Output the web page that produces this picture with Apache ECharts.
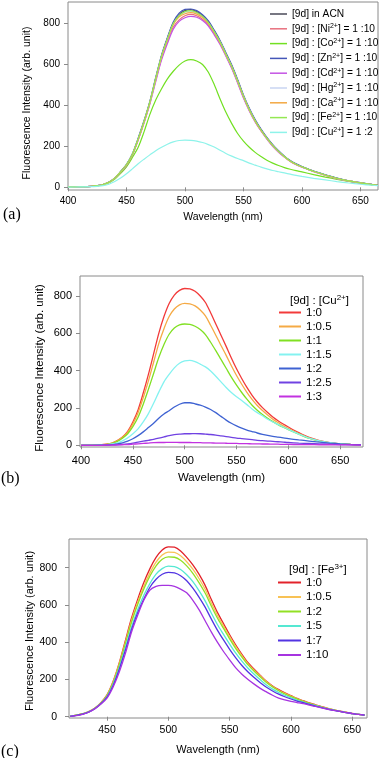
<!DOCTYPE html>
<html>
<head>
<meta charset="utf-8">
<script src="https://cdn.jsdelivr.net/npm/echarts@6/dist/echarts.min.js"></script>
<style>
html,body{margin:0;padding:0;background:#fff}
#chart{width:380px;height:758px}
</style>
</head>
<body>
<div id="chart"></div>
<script>
// wavelengths (nm)
var waveA = [400,410,420,425,430,435,440,445,450,455,460,465,470,475,480,485,490,495,500,505,510,515,520,525,530,535,540,545,550,555,560,565,570,575,580,585,590,595,600,610,620,630,640,650,660,665];
var waveB = [400,410,420,425,430,435,440,445,450,455,460,465,470,475,480,485,490,495,500,505,510,515,520,525,530,535,540,545,550,555,560,565,570,575,580,585,590,595,600,610,620,630,640,650,660,670];
var waveC = [420,425,430,435,440,445,450,455,460,465,470,475,480,485,490,495,500,505,510,515,520,525,530,535,540,545,550,555,560,565,570,575,580,585,590,595,600,605,610,615,620,625,630,635,640,645,650,655,660];

// (a) metal ions
var namesA = ['[9d] in ACN','[9d] : [Ni2+] = 1 :10','[9d] : [Co2+] = 1 :10','[9d] : [Zn2+] = 1 :10','[9d] : [Cd2+] = 1 :10','[9d] : [Hg2+] = 1 :10','[9d] : [Ca2+] = 1 :10','[9d] : [Fe2+] = 1 :10','[9d] : [Cu2+] = 1 :2'];
var colorsA = ['#4a4a58','#e8707e','#72e022','#4456b8','#c455e4','#c9d5f2','#f3a843','#94e853','#8ef3ea'];
var acn = [2,3,5,8,14,25,45,75,110,160,235,320,415,530,640,725,800,840,860,865,855,835,805,760,710,650,590,520,445,380,325,280,240,205,175,150,128,112,100,78,60,44,31,22,13,10];
var ni  = [2,3,5,8,14,25,44,74,108,158,232,316,410,522,628,710,780,815,835,842,835,818,790,748,700,642,582,512,438,375,320,276,237,202,173,148,127,111,99,77,59,43,30,21,13,9];
var co  = [1,2,4,7,12,22,40,68,100,145,195,270,355,425,480,528,565,595,615,622,615,598,560,500,430,365,310,262,225,195,170,150,132,118,106,96,88,81,75,62,50,39,29,20,12,9];
var zn  = [2,3,5,8,14,26,46,77,112,163,240,325,420,535,645,730,805,848,866,868,860,840,810,765,715,655,595,525,450,385,330,283,243,208,178,152,130,114,101,79,61,45,32,23,14,10];
var cd  = [2,3,5,8,14,25,44,73,107,157,230,313,405,515,620,700,770,808,825,832,828,812,785,742,695,638,578,508,435,372,318,274,235,200,171,147,126,110,98,76,58,42,30,21,13,9];
var hg  = [2,3,5,8,14,25,45,75,110,160,234,318,412,527,636,720,795,835,852,856,848,830,800,756,707,647,587,517,443,378,323,278,238,203,174,149,127,111,99,77,59,43,31,22,13,9];
var ca  = [2,3,5,8,14,25,45,75,109,159,233,318,413,527,635,718,792,830,845,850,843,826,797,753,704,645,586,516,442,377,322,277,238,203,174,149,127,111,99,77,59,43,31,22,13,9];
var fe  = [2,3,5,8,14,25,45,76,111,161,236,321,416,530,640,722,797,836,855,860,851,832,802,758,708,648,588,518,444,379,324,279,239,204,175,150,128,112,100,78,60,44,31,22,13,10];
var cu  = [1,2,3,5,8,15,28,45,66,90,115,137,158,178,195,210,221,228,230,229,225,218,208,196,180,165,152,140,130,118,108,98,90,82,76,70,64,58,53,44,36,28,21,15,10,8];
var valuesA = [acn, ni, co, zn, cd, hg, ca, fe, cu];

// (b) Cu2+ titration
var namesB = ['1:0','1:0.5','1:1','1:1.5','1:2','1:2.5','1:3'];
var colorsB = ['#f23a3a','#f5aa45','#80e022','#84f2f0','#3e62d2','#7042e2','#c232e0'];
var b1_0  = [0,1,3,6,12,25,45,75,125,190,280,380,490,600,690,760,805,830,840,838,825,800,765,710,650,590,530,468,410,358,310,268,232,202,176,152,132,114,98,68,42,25,14,8,5,3];
var b1_05 = [0,1,3,6,12,24,43,70,115,175,255,345,445,545,625,690,730,752,760,758,747,725,693,643,590,535,482,426,374,327,284,246,213,186,162,140,122,105,90,63,39,24,13,8,5,3];
var b1_1  = [0,1,3,5,11,21,38,62,100,150,220,300,385,470,540,595,628,645,650,648,638,620,593,552,507,460,413,365,322,283,247,215,188,165,145,127,111,97,84,60,38,23,13,8,5,3];
var b1_15 = [0,1,2,4,7,13,24,40,62,88,125,170,225,285,340,380,415,440,452,455,448,435,420,398,370,340,310,283,260,240,218,195,175,158,140,125,112,98,85,60,38,24,14,8,5,3];
var b1_2  = [0,0,1,2,4,7,13,22,35,52,72,95,118,145,168,185,205,220,228,228,222,215,205,192,175,155,135,118,104,92,82,74,66,59,53,48,44,40,36,29,23,17,12,8,5,3];
var b1_25 = [0,0,0,1,2,3,5,8,12,17,22,27,32,38,45,52,57,60,62,62,63,62,60,58,55,51,47,43,39,36,33,30,27,25,23,21,19,17,15,12,10,8,6,4,3,2];
var b1_3  = [0,0,0,1,1,2,3,4,6,8,10,12,14,15,15,16,16,15,15,15,14,14,13,13,12,12,11,10,10,9,9,8,8,7,7,6,6,5,5,4,4,3,3,2,2,1];
var valuesB = [b1_0, b1_05, b1_1, b1_15, b1_2, b1_25, b1_3];

// (c) Fe3+ titration
var namesC = ['1:0','1:0.5','1:2','1:5','1:7','1:10'];
var colorsC = ['#e2222a','#f8c255','#92e024','#55e8d2','#5234e2','#a634e0'];
var c1_0  = [3,8,15,27,45,75,117,190,290,410,530,630,720,795,855,895,912,910,890,855,815,765,705,630,560,500,440,385,335,290,255,222,190,165,145,128,113,98,86,74,64,54,45,37,30,24,18,13,9];
var c1_05 = [3,8,15,27,45,74,115,186,284,400,518,615,700,772,830,868,884,882,864,832,792,742,684,612,545,487,430,376,328,284,250,218,187,162,142,125,110,96,84,72,62,53,44,36,29,23,17,12,9];
var c1_2  = [3,8,15,26,45,73,113,182,278,392,507,602,685,755,810,845,858,856,840,810,770,720,664,595,530,474,418,366,320,278,244,213,183,159,139,122,108,94,82,71,61,52,43,36,29,23,17,12,9];
var c1_5  = [3,7,14,26,44,71,108,174,264,372,482,574,652,715,765,795,808,806,790,762,725,677,622,557,495,442,390,341,298,260,228,198,170,148,130,115,101,88,78,68,59,50,42,35,28,22,17,12,9];
var c1_7  = [2,7,14,25,43,70,105,168,255,358,468,558,632,695,738,765,775,772,757,730,690,642,588,525,465,412,362,316,275,240,210,182,158,138,121,107,95,84,75,66,57,49,41,34,28,22,17,12,8];
var c1_10 = [2,6,13,24,42,68,100,160,240,340,455,545,625,680,700,705,705,700,685,665,625,575,515,455,400,350,305,262,228,200,175,152,133,115,100,90,82,76,70,62,55,47,40,34,28,22,17,12,8];
var valuesC = [c1_0, c1_05, c1_2, c1_5, c1_7, c1_10];

// tick labels
var xTicksA = [400,450,500,550,600,650];
var xTicksB = [400,450,500,550,600,650];
var xTicksC = [450,500,550,600,650];
var yTicks = [0,200,400,600,800];

var FONT = '"Liberation Sans", Arial, sans-serif';
var FRAME = '#8a8a8a';
var Y_TITLE = 'Fluorescence Intensity (arb. unit)';

function pairs(w, v) {
    return w.map(function (x, i) { return [x, v[i]]; });
}
function supText(s) {
    return s.replace(/(\d\+)/g, '{sup|$1}');
}

function xAxisOf(grid, min, max, ticks, fs, margin, gap) {
    return {
        type: 'value', gridIndex: grid, min: min, max: max,
        name: 'Wavelength (nm)', nameLocation: 'middle', nameGap: gap,
        nameTextStyle: {fontFamily: FONT, fontSize: fs + 0.5, color: '#000'},
        axisLine: {show: false},
        axisTick: {show: true, length: 4, customValues: ticks, lineStyle: {color: FRAME}},
        axisLabel: {customValues: ticks, fontFamily: FONT, fontSize: fs, color: '#000', margin: margin},
        splitLine: {show: false}
    };
}
function yAxisOf(grid, min, max, fs, margin) {
    return {
        type: 'value', gridIndex: grid, min: min, max: max,
        axisLine: {show: false},
        axisTick: {show: true, length: 4, customValues: yTicks, lineStyle: {color: FRAME}},
        axisLabel: {customValues: yTicks, fontFamily: FONT, fontSize: fs, color: '#000', margin: margin},
        splitLine: {show: false}
    };
}
// rotated y-axis title
function yTitle(x, y, fs) {
    return {
        type: 'text', x: x, y: y, rotation: Math.PI / 2, silent: true,
        style: {text: Y_TITLE, fontFamily: FONT, fontSize: fs, fill: '#000', align: 'center', verticalAlign: 'middle'}
    };
}

var series = [];
namesA.forEach(function (n, i) {
    series.push({name: n, type: 'line', xAxisIndex: 0, yAxisIndex: 0, data: pairs(waveA, valuesA[i]),
        symbol: 'none', smooth: 0.3, color: colorsA[i], lineStyle: {width: 1.2}});
});
namesB.forEach(function (n, i) {
    series.push({name: 'b ' + n, type: 'line', xAxisIndex: 1, yAxisIndex: 1, data: pairs(waveB, valuesB[i]),
        symbol: 'none', smooth: 0.3, color: colorsB[i], lineStyle: {width: 1.3}});
});
namesC.forEach(function (n, i) {
    series.push({name: 'c ' + n, type: 'line', xAxisIndex: 2, yAxisIndex: 2, data: pairs(waveC, valuesC[i]),
        symbol: 'none', smooth: 0.3, color: colorsC[i], lineStyle: {width: 1.3}});
});

var gridStyle = {show: true, borderColor: FRAME, borderWidth: 1, containLabel: false};

var option = {
    animation: false,
    backgroundColor: '#fff',
    grid: [
        Object.assign({left: 68, top: 2, width: 310, height: 188}, gridStyle),
        Object.assign({left: 80, top: 276, width: 283, height: 171}, gridStyle),
        Object.assign({left: 69, top: 539, width: 298, height: 179}, gridStyle)
    ],
    xAxis: [
        xAxisOf(0, 400, 665, xTicksA, 10, 6, 22),
        xAxisOf(1, 399, 672, xTicksB, 11, 8, 25),
        xAxisOf(2, 419, 662, xTicksC, 10.5, 7, 26)
    ],
    yAxis: [
        yAxisOf(0, -13, 902, 10, 8),
        yAxisOf(1, -9, 907, 11, 8),
        yAxisOf(2, -7, 954, 10.5, 12)
    ],
    graphic: [
        yTitle(27, 103, 10.5),
        yTitle(39.5, 368, 11.5),
        yTitle(30, 631, 11)
    ],
    legend: [
        {
            data: namesA, orient: 'vertical', left: 270, top: 8, icon: 'rect', itemWidth: 17, itemHeight: 1.5, itemGap: 2.8,
            padding: 0, selectedMode: false,
            formatter: function (n) { return supText(n); },
            textStyle: {fontFamily: FONT, fontSize: 10.2, color: '#000', lineHeight: 12,
                rich: {sup: {fontFamily: FONT, fontSize: 7, verticalAlign: 'top', lineHeight: 12, padding: [0, 0, 4, 0]}}}
        },
        {
            data: namesB.map(function (n) { return 'b ' + n; }), orient: 'vertical', left: 279, top: 306,
            icon: 'rect', itemWidth: 22, itemHeight: 2, itemGap: 1, padding: 0, selectedMode: false,
            formatter: function (n) { return n.slice(2); },
            textStyle: {fontFamily: FONT, fontSize: 11.5, color: '#000', lineHeight: 13}
        },
        {
            data: namesC.map(function (n) { return 'c ' + n; }), orient: 'vertical', left: 278, top: 576,
            icon: 'rect', itemWidth: 23, itemHeight: 2, itemGap: 1.5, padding: 0, selectedMode: false,
            formatter: function (n) { return n.slice(2); },
            textStyle: {fontFamily: FONT, fontSize: 11.5, color: '#000', lineHeight: 13}
        }
    ],
    title: [
        {text: '[9d] : [Cu{sup|2+}]', left: 290, top: 294, padding: 0,
            textStyle: {fontFamily: FONT, fontSize: 11.5, fontWeight: 'normal', color: '#000', lineHeight: 14,
                rich: {sup: {fontFamily: FONT, fontSize: 8, verticalAlign: 'top', lineHeight: 14}}}},
        {text: '[9d] : [Fe{sup|3+}]', left: 289, top: 563, padding: 0,
            textStyle: {fontFamily: FONT, fontSize: 11.5, fontWeight: 'normal', color: '#000', lineHeight: 14,
                rich: {sup: {fontFamily: FONT, fontSize: 8, verticalAlign: 'top', lineHeight: 14}}}},
        {text: '(a)', left: 3, top: 207, padding: 0,
            textStyle: {fontFamily: '"Liberation Serif", serif', fontSize: 16, fontWeight: 'normal', color: '#000'}},
        {text: '(b)', left: 1, top: 471, padding: 0,
            textStyle: {fontFamily: '"Liberation Serif", serif', fontSize: 16, fontWeight: 'normal', color: '#000'}},
        {text: '(c)', left: 1, top: 744, padding: 0,
            textStyle: {fontFamily: '"Liberation Serif", serif', fontSize: 16, fontWeight: 'normal', color: '#000'}}
    ],
    series: series
};

var chart = echarts.init(document.getElementById('chart'), null, {renderer: 'canvas'});
chart.setOption(option);
</script>
</body>
</html>
